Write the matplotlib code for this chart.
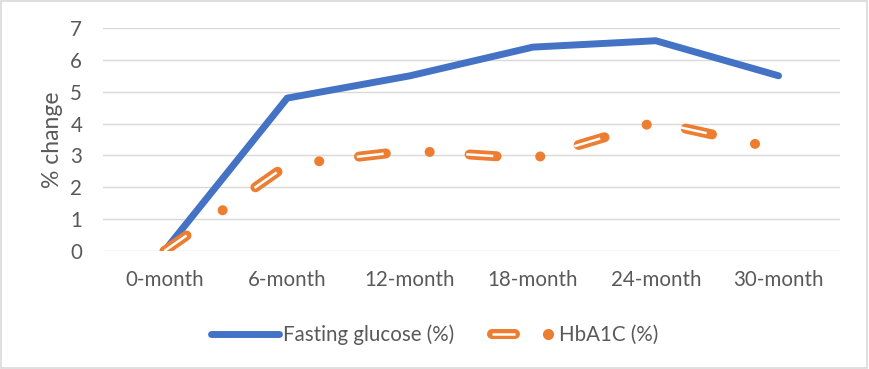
import matplotlib
matplotlib.use('Agg')
import matplotlib.pyplot as plt
from matplotlib.lines import Line2D
from matplotlib.legend_handler import HandlerBase
from matplotlib.patches import Rectangle

plt.rcParams['font.family'] = ['Lato', 'DejaVu Sans']

months = ['0-month', '6-month', '12-month', '18-month', '24-month', '30-month']
fasting = [0, 4.8, 5.5, 6.4, 6.6, 5.5]
hba1c = [0, 2.7, 3.15, 2.9, 4.05, 3.2]

BLUE = '#4472C4'
ORANGE = '#ED7D31'
GREY = '#595959'
GRID = '#D9D9D9'


class HollowDashDot:
    pass


class HollowDashDotHandler(HandlerBase):
    def create_artists(self, legend, orig_handle, xdescent, ydescent,
                       width, height, fontsize, trans):
        y = height / 2 - ydescent
        x0 = -xdescent
        xs = [x0 + 0.07 * width, x0 + 0.42 * width]
        outer = Line2D(xs, [y, y], color=ORANGE, lw=7.2,
                       solid_capstyle='round', transform=trans)
        inner = Line2D(xs, [y, y], color='white', lw=1.8,
                       solid_capstyle='butt', transform=trans)
        dot = Line2D([x0 + 0.9 * width], [y], marker='o', ms=7,
                     color=ORANGE, ls='none', transform=trans)
        return [outer, inner, dot]


fig = plt.figure(figsize=(8.69, 3.69), dpi=100)
ax = fig.add_axes([103 / 869, 1 - 251 / 369, (840 - 103) / 869, (251 - 28) / 369])

x = list(range(len(months)))
ax.plot(x, fasting, color=BLUE, lw=5.0, solid_capstyle='round',
        solid_joinstyle='round', zorder=3)
# orange "double" long-dash-dot line: thick orange dashes + thin white core
ax.plot(x, hba1c, color=ORANGE, lw=7.2, linestyle=(0, (2.7, 4.4, 0.01, 4.0)),
        dash_capstyle='round', zorder=4)
ax.plot(x, hba1c, color='white', lw=1.8, linestyle=(0, (10.8, 33.2)),
        dash_capstyle='butt', zorder=5)

ax.set_xlim(-0.5, len(months) - 0.5)
ax.set_ylim(0, 7)
ax.set_yticks(range(8))
ax.set_xticks(x)
ax.set_xticklabels(months)
ax.tick_params(length=0, labelsize=14.8, colors=GREY)
ax.tick_params(axis='y', pad=15)
ax.tick_params(axis='x', pad=14)
ax.yaxis.grid(True, color=GRID, lw=1.0)
ax.set_axisbelow(True)
for s in ax.spines.values():
    s.set_visible(False)
ax.set_ylabel('% change', fontsize=16.5, color=GREY, labelpad=5)

blue_handle = Line2D([], [], color=BLUE, lw=5.0, solid_capstyle='round')
fig.legend([blue_handle, HollowDashDot()], ['Fasting glucose (%)', 'HbA1C (%)'],
           loc='center', bbox_to_anchor=(0.5, 1 - 335 / 369), ncol=2,
           frameon=False, handlelength=3.3, handletextpad=0.2,
           columnspacing=1.6, fontsize=14.8, labelcolor=GREY,
           handler_map={HollowDashDot: HollowDashDotHandler()})

fig.add_artist(Rectangle((0.001, 0.002), 0.997, 0.995, transform=fig.transFigure,
                         fill=False, edgecolor=GRID, lw=1.2))

fig.savefig('out.png', dpi=100)
